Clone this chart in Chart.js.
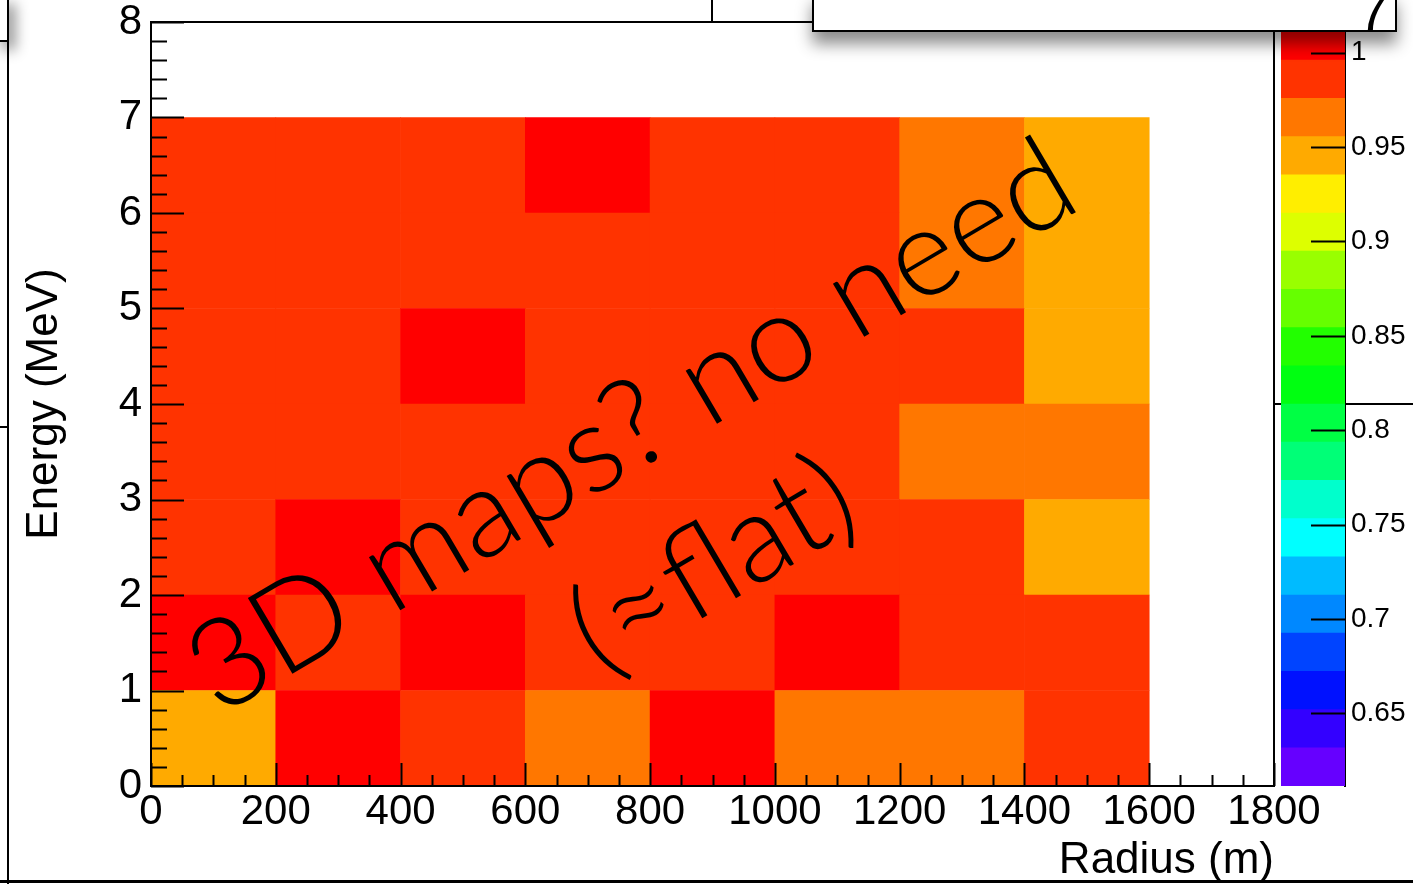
<!DOCTYPE html>
<html>
<head>
<meta charset="utf-8">
<title>Energy vs Radius</title>
<script src="https://cdn.jsdelivr.net/npm/chart.js@4.4.1/dist/chart.umd.min.js"></script>
<style>
html,body{margin:0;padding:0;background:#fff;}
#wrap{position:relative;width:1413px;height:884px;overflow:hidden;background:#fff;}
#wrap canvas{position:absolute;top:0;}
.ln{position:absolute;background:#000;}
#note{position:absolute;left:812px;top:-8px;width:581px;height:36px;background:#fff;border:2px solid #000;
  box-shadow:0 12px 16px rgba(0,0,0,0.45);z-index:5;}
#note span{position:absolute;right:6px;bottom:-14px;font:56px "Liberation Sans",Arial,sans-serif;color:#000;}
#tl{position:absolute;left:-4px;top:-4px;width:9px;height:42px;background:#fff;border:2px solid #000;
  box-shadow:6px 8px 14px rgba(0,0,0,0.45);z-index:5;}
</style>
</head>
<body>
<div id="wrap">
  <div class="ln" style="left:1274px;top:403px;width:139px;height:2px;"></div>
  <div class="ln" style="left:7px;top:40px;width:2px;height:844px;"></div>
  <div class="ln" style="left:0;top:426px;width:8px;height:2px;"></div>
  <div class="ln" style="left:711px;top:0;width:2px;height:22px;"></div>
  <div class="ln" style="left:0;top:880px;width:1413px;height:3px;"></div>
  <canvas id="main" width="1413" height="884" style="left:0;"></canvas>
  <canvas id="scale" width="151" height="884" style="left:1262px;"></canvas>
  <div id="tl"></div>
  <div id="note"><span>7</span></div>
</div>
<script>
// bin edges
const radiusEdges = [0, 200, 400, 600, 800, 1000, 1200, 1400, 1600];
const energyEdges = [0, 1, 2, 3, 4, 5, 6, 7];

// ratio per radius bin, one array per energy bin
const effE0 = [0.946, 1.006, 0.984, 0.966, 1.004, 0.968, 0.964, 0.988];
const effE1 = [1.003, 0.987, 1.008, 0.985, 0.982, 1.002, 0.983, 0.979];
const effE2 = [0.986, 1.005, 0.984, 0.988, 0.981, 0.986, 0.985, 0.948];
const effE3 = [0.983, 0.986, 0.989, 0.984, 0.987, 0.982, 0.967, 0.965];
const effE4 = [0.985, 0.982, 1.007, 0.987, 0.984, 0.989, 0.981, 0.944];
const effE5 = [0.987, 0.984, 0.986, 0.983, 0.988, 0.985, 0.969, 0.942];
const effE6 = [0.984, 0.989, 0.982, 1.016, 0.986, 0.983, 0.963, 0.951];
const effRows = [effE0, effE1, effE2, effE3, effE4, effE5, effE6];

const xTicks = [0, 200, 400, 600, 800, 1000, 1200, 1400, 1600, 1800];
const yTicks = [0, 1, 2, 3, 4, 5, 6, 7, 8];
const zTicks = [0.65, 0.7, 0.75, 0.8, 0.85, 0.9, 0.95, 1];

const zMin = 0.6115, zMax = 1.0163;
const palette = ["#6600ff","#3300ff","#0011ff","#0044ff","#0088ff","#00bbff","#00ffff","#00ffcc","#00ff77","#00ff44",
                 "#00ff11","#22ff00","#66ff00","#99ff00","#ddff00","#ffee00","#ffaa00","#ff7700","#ff3300","#ff0000"];

const FONT = '"Liberation Sans", Arial, Helvetica, sans-serif';
Chart.defaults.font.family = FONT;
Chart.defaults.color = "#000";

function colourFor(v){
  let i = Math.floor((v - zMin) / (zMax - zMin) * palette.length);
  return palette[Math.max(0, Math.min(palette.length - 1, i))];
}

const cells = effRows.map((row, j) => ({
  data: row.map((v, i) => ({x: (radiusEdges[i] + radiusEdges[i + 1]) / 2, y: [energyEdges[j], energyEdges[j + 1]]})),
  backgroundColor: row.map(colourFor),
  borderWidth: 0,
  barPercentage: 1,
  categoryPercentage: 1,
  grouped: false
}));

function fixSize(w, h){
  return s => {
    if (w !== null) s.width = w;
    if (h !== null) s.height = h;
    s.paddingTop = s.paddingBottom = s.paddingLeft = s.paddingRight = 0;
  };
}

// frame, inner ticks and the handwritten note
const frameTicks = {
  id: "frameTicks",
  afterDraw(chart){
    const {ctx, chartArea: a, scales: {x, y}} = chart;
    ctx.save();
    ctx.strokeStyle = "#000";
    ctx.lineWidth = 2;
    ctx.strokeRect(a.left, a.top, a.right - a.left, a.bottom - a.top);
    ctx.beginPath();
    for (let v = 0; v <= 8.001; v += 0.2) {
      const p = Math.round(y.getPixelForValue(v)) + 0.5;
      const major = Math.abs(v - Math.round(v)) < 1e-6;
      ctx.moveTo(a.left, p);
      ctx.lineTo(a.left + (major ? 33 : 16), p);
    }
    for (let v = 0; v <= 1800; v += 50) {
      const p = Math.round(x.getPixelForValue(v)) + 0.5;
      ctx.moveTo(p, a.bottom);
      ctx.lineTo(p, a.bottom - (v % 200 === 0 ? 23 : 11));
    }
    ctx.stroke();

    ctx.translate(652, 462);
    ctx.rotate(-30.5 * Math.PI / 180);
    ctx.fillStyle = "#000";
    ctx.textAlign = "center";
    ctx.textBaseline = "alphabetic";
    ctx.font = '300 124px Lato, "Open Sans", sans-serif';
    ctx.fillText("3D maps? no need", 0, 0);
    ctx.fillText("(\u2248flat)", 0, 160);
    ctx.restore();
  }
};

new Chart(document.getElementById("main"), {
  type: "bar",
  data: {datasets: cells},
  options: {
    responsive: false,
    animation: false,
    events: [],
    devicePixelRatio: 1,
    layout: {padding: {left: 0, top: 22, right: 139, bottom: 0}},
    plugins: {legend: {display: false}, tooltip: {enabled: false}},
    scales: {
      x: {
        type: "linear", min: 0, max: 1800, offset: false,
        grid: {display: false, drawTicks: false, offset: false},
        border: {display: false},
        afterBuildTicks: s => { s.ticks = xTicks.map(v => ({value: v})); },
        afterFit: fixSize(null, 98),
        ticks: {autoSkip: false, maxRotation: 0, padding: 5, font: {size: 42, lineHeight: 1}, callback: v => String(v)},
        title: {display: true, text: "Radius (m)", align: "end", font: {size: 44, lineHeight: 1}, padding: {top: 0, bottom: 1}}
      },
      y: {
        type: "linear", min: 0, max: 8,
        grid: {display: false, drawTicks: false},
        border: {display: false},
        afterBuildTicks: s => { s.ticks = yTicks.map(v => ({value: v})); },
        afterFit: fixSize(151, null),
        ticks: {padding: 9, font: {size: 42, lineHeight: 1}},
        title: {display: true, text: "Energy (MeV)", font: {size: 44, lineHeight: 1.2}, padding: {top: 18, bottom: 0}}
      }
    }
  },
  plugins: [frameTicks]
});

// palette bar
const band = (zMax - zMin) / palette.length;
const scaleTicks = {
  id: "scaleTicks",
  afterDraw(chart){
    const {ctx, chartArea: a, scales: {y}} = chart;
    ctx.save();
    ctx.strokeStyle = "#000";
    ctx.lineWidth = 2;
    ctx.beginPath();
    y.ticks.forEach(t => {
      const p = Math.round(y.getPixelForValue(t.value)) + 0.5;
      ctx.moveTo(a.right - 34, p);
      ctx.lineTo(a.right, p);
    });
    ctx.stroke();
    ctx.restore();
  }
};

new Chart(document.getElementById("scale"), {
  type: "bar",
  data: {
    labels: [""],
    datasets: palette.map((c, i) => ({
      data: [[zMin + i * band, zMin + (i + 1) * band]],
      backgroundColor: c, borderWidth: 0, grouped: false, barPercentage: 1, categoryPercentage: 1
    }))
  },
  options: {
    responsive: false,
    animation: false,
    events: [],
    devicePixelRatio: 1,
    layout: {padding: {left: 19, top: 22, right: 0, bottom: 98}},
    plugins: {legend: {display: false}, tooltip: {enabled: false}},
    scales: {
      x: {display: false},
      y: {
        position: "right", min: zMin, max: zMax,
        grid: {display: false, drawTicks: false},
        border: {display: true, color: "#000", width: 2},
        afterBuildTicks: s => { s.ticks = zTicks.map(v => ({value: v})); },
        afterFit: fixSize(68, null),
        ticks: {padding: 6, font: {size: 28, lineHeight: 1}, callback: v => String(+v.toFixed(2))}
      }
    }
  },
  plugins: [scaleTicks]
});
</script>
</body>
</html>
